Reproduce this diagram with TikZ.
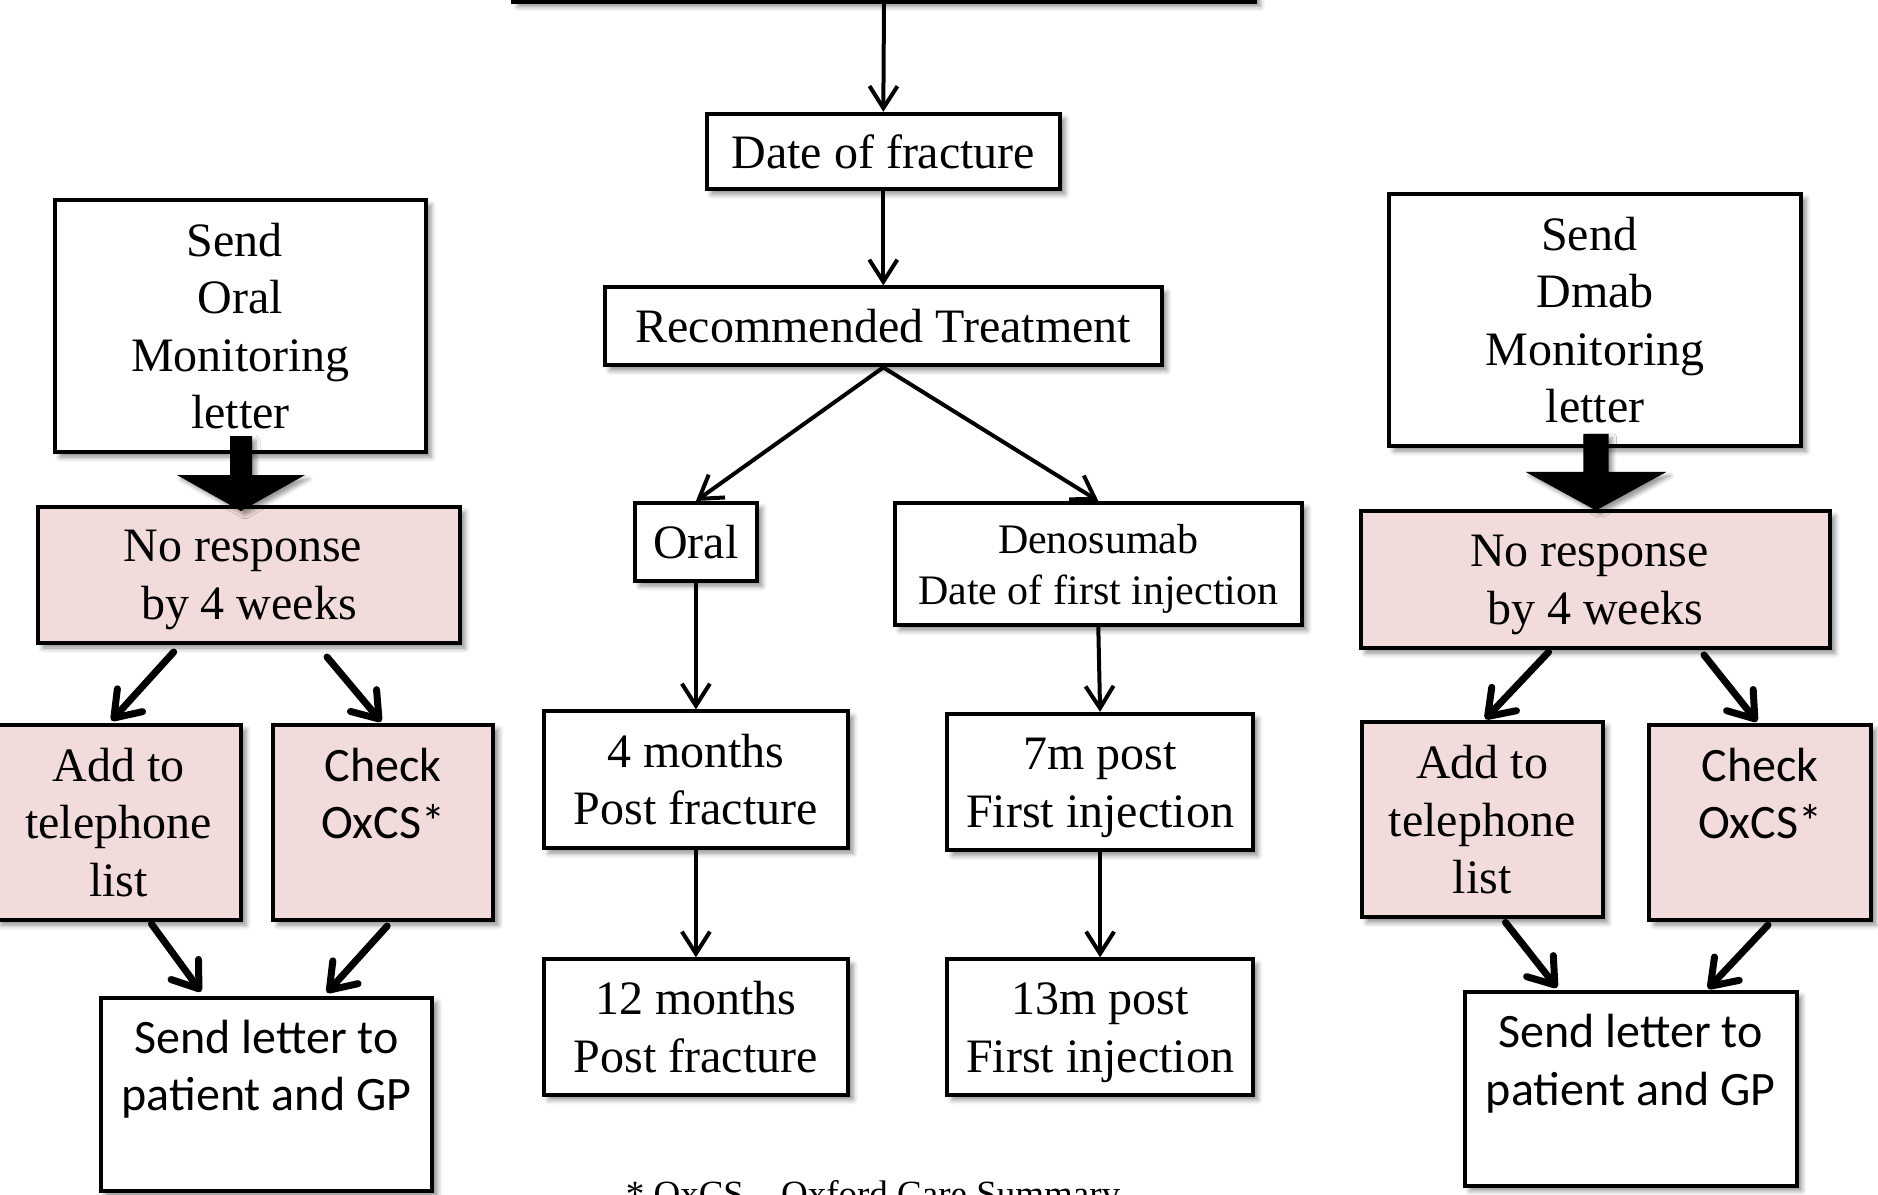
\documentclass[tikz,border=0pt]{standalone}
\usepackage{fontspec}
\setmainfont{Liberation Serif}
\newfontfamily\calfont{Carlito}
\usetikzlibrary{arrows.meta,calc,shadows.blur}
\definecolor{pinkfill}{HTML}{F2DCDB}
% last line of a box: its descenders do not move the text block
\newcommand{\lastln}[1]{\smash{#1}}
\tikzset{
  wh/.style 2 args={minimum width=#1*0.5pt, minimum height=#2*0.5pt},
  flowbox/.style={draw=black, line width=2pt, fill=white, inner sep=0pt, align=center,
    font=\fontsize{24}{28.8}\selectfont,
    blur shadow={shadow xshift=2.5pt, shadow yshift=-2.5pt, shadow blur radius=2.5pt, shadow opacity=45}},
  pinkbox/.style={flowbox, fill=pinkfill},
  sansbox/.style={font=\calfont\fontsize{24}{28.8}\selectfont},
  carrow/.style={line width=2pt, -{Straight Barb[length=11pt,width=14pt]}},
  warrow/.style={line width=3.5pt, line cap=round, -{Straight Barb[length=12pt,width=17pt,round]}},
  blockarrow/.style={fill=black,
    blur shadow={shadow xshift=2pt, shadow yshift=-2pt, shadow blur radius=2pt, shadow opacity=40}}
}
\begin{document}
\begin{tikzpicture}[x=0.5pt, y=-0.5pt]
\useasboundingbox (0,0) rectangle (1878,1194);

% ---- central column ----
\node[flowbox, wh={742}{103}] (top) at (884,-50) {};
\node[flowbox, wh={353.4}{75.4}] (date) at (883.3,151.5) {Date of fracture};
\node[flowbox, wh={557}{78}] (rec) at (883.3,326.4) {Recommended Treatment};
\node[flowbox, wh={122.2}{78}] (oral) at (695.9,542) {Oral};
\node[flowbox, wh={407.2}{122.2}, font=\fontsize{21}{25.5}\selectfont] (deno) at (1098.3,564.1)
  {Denosumab\\\lastln{Date of first injection}};
\node[flowbox, wh={304.2}{136.6}] (m4) at (695.9,779.7) {4 months\\Post fracture};
\node[flowbox, wh={305.4}{136.6}] (m7) at (1100.1,782.1) {\vphantom{Ad}7m post\\\lastln{First injection}};
\node[flowbox, wh={304.2}{135.3}] (m12) at (695.9,1027) {12 months\\Post fracture};
\node[flowbox, wh={305.4}{135.3}] (m13) at (1100.1,1027) {\vphantom{Ad}13m post\\\lastln{First injection}};

\node[anchor=base, font=\fontsize{18.5}{22}\selectfont] (note) at (873,1206)
  {* OxCS -- Oxford Care Summary};

% ---- oral monitoring branch ----
\node[flowbox, wh={371}{252}] (sendoral) at (240.5,326) {Send\kern6pt\\Oral\\Monitoring\\letter};
\node[pinkbox, wh={422}{136}] (nrl) at (249,575) {No response\kern6pt\\\lastln{by 4 weeks}};
\node[pinkbox, wh={245}{195.4}] (addl) at (118.5,822.3) {Add to\\telephone\\list};
\node[pinkbox, sansbox, wh={220.5}{195.4}] (chkl) at (383.2,822.3) {Check\\OxCS*\\\mbox{}};
\node[flowbox, sansbox, wh={331.8}{193.3}] (sll) at (266.5,1094.3)
  {Send letter to\\patient and GP\\\mbox{}};

% ---- denosumab monitoring branch ----
\node[flowbox, wh={412}{252}] (senddmab) at (1595,320) {Send\kern6pt\\Dmab\\Monitoring\\letter};
\node[pinkbox, wh={469.4}{136.6}] (nrr) at (1595.3,579.7) {No response\kern6pt\\\lastln{by 4 weeks}};
\node[pinkbox, wh={240.7}{195.4}] (addr) at (1482.2,819.7) {Add to\\telephone\\list};
\node[pinkbox, sansbox, wh={222}{195.4}] (chkr) at (1760,822.3) {Check\\OxCS*\\\mbox{}};
\node[flowbox, sansbox, wh={331.8}{194}] (slr) at (1630.7,1088.7)
  {Send letter to\\patient and GP\\\mbox{}};

% ---- block arrows under the letter boxes ----
\path[blockarrow] ([shift={(0.5,0)}]nrl.north -| sendoral.south) ++(0,6)
  -- ++(-64,-36) -- ++(53,0) -- ++(0,-39) -- ++(22,0) -- ++(0,39) -- ++(53,0) -- cycle;
\path[blockarrow] ([shift={(1,1)}]nrr.north -| senddmab.south)
  -- ++(-70.6,-38.6) -- ++(57.9,0) -- ++(0,-38) -- ++(25.4,0) -- ++(0,38) -- ++(57.9,0) -- cycle;

% ---- central connectors ----
\draw[carrow] (top.south) -- (date.north);
\draw[carrow] (date.south) -- (rec.north);
\draw[carrow] (rec.south) -- (oral.north);
\draw[carrow] (rec.south) -- (deno.north);
\draw[carrow] (oral.south) -- (m4.north);
\draw[carrow] (deno.south) -- (m7.north);
\draw[carrow] (m4.south) -- (m12.north);
\draw[carrow] (m7.south) -- (m13.north);

% ---- side connectors ----
\draw[warrow] ([shift={(-75.3,7)}]nrl.south) -- ([shift={(-7,-2)}]addl.north);
\draw[warrow] ([shift={(78,12)}]nrl.south) -- ([shift={(-2,-1)}]chkl.north);
\draw[warrow] ([shift={(33,2)}]addl.south) -- ([shift={(-65.5,-4)}]sll.north);
\draw[warrow] ([shift={(4,4)}]chkl.south) -- ([shift={(60.5,-3)}]sll.north);

\draw[warrow] ([shift={(-46.7,2)}]nrr.south) -- ([shift={(3,-1)}]addr.north);
\draw[warrow] ([shift={(108.7,5)}]nrr.south) -- ([shift={(-3,-1)}]chkr.north);
\draw[warrow] ([shift={(23.3,3)}]addr.south) -- ([shift={(-73.7,-2)}]slr.north);
\draw[warrow] ([shift={(8,3)}]chkr.south) -- ([shift={(77.3,-1)}]slr.north);
\end{tikzpicture}
\end{document}
